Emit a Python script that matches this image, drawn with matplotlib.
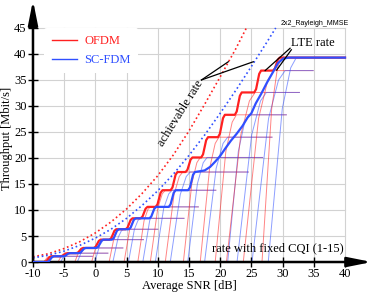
import matplotlib
matplotlib.use("Agg")
import matplotlib.pyplot as plt
from matplotlib.lines import Line2D

plt.rcParams['font.family'] = ['Liberation Serif', 'DejaVu Serif']
plt.rcParams['axes.unicode_minus'] = False

# ---- values ----
# throughput plateau of each CQI (1-15) [Mbit/s]
cqi_level = [1.1, 1.7, 2.7, 4.3, 6.3, 8.4, 10.6, 13.8, 17.3, 20.1, 24.0, 28.3, 32.6, 36.8, 39.3]

# fixed-CQI curves: SNR [dB] where throughput leaves zero / reaches plateau
ofdm_cqi_start = [-8.3, -6.0, -3.3, -0.6, 2.2, 4.6, 6.8, 8.8, 11.2, 14.1, 16.8, 19.2, 21.0, 23.7, 26.7]
ofdm_cqi_full = [-7.2, -4.8, -2.0, 0.9, 3.8, 6.4, 8.8, 11.2, 14.0, 16.8, 19.8, 22.6, 25.6, 28.6, 29.8]
scfdm_cqi_start = [-8.0, -5.6, -2.9, -0.1, 2.8, 5.3, 7.6, 9.6, 12.0, 14.8, 17.5, 21.2, 22.7, 25.1, 27.7]
scfdm_cqi_full = [-6.8, -4.3, -1.5, 1.5, 4.5, 7.2, 9.8, 12.3, 15.2, 17.9, 21.2, 24.6, 27.4, 30.4, 32.2]
cqi_line_end = [-0.5, 2.0, 4.4, 7.7, 10.0, 14.2, 16.5, 19.3, 24.5, 26.8, 28.3, 30.6, 32.7, 34.9, 40.0]

# LTE rate (adaptive CQI): SNR of each step [dB]
ofdm_step_snr = [-7.6, -5.0, -2.5, 0.3, 2.8, 5.4, 7.8, 10.2, 12.6, 15.0, 17.5, 20.2, 22.9, 26.0, 29.0]
scfdm_step_snr = [-7.2, -4.6, -2.1, 0.7, 3.2, 5.9, 9.2, 12.3, 15.4]
scfdm_tail_snr = [17.5, 18.4, 19.2, 20.0, 20.8, 21.7, 22.6, 23.6, 24.4, 25.0, 25.7,
                  26.6, 27.5, 28.5, 29.3, 30.1, 31.0, 40.0]
scfdm_tail_tp = [17.6, 18.3, 19.3, 20.4, 21.8, 23.3, 24.6, 26.2, 27.8, 28.6, 30.5,
                 32.4, 34.5, 36.6, 38.3, 39.1, 39.3, 39.3]

# achievable rate
ofdm_cap_snr = [-10, -7.5, -5, -2.5, 0, 2.5, 5, 7.5, 10, 12.5, 15, 17.5, 20, 22.5, 24.2]
ofdm_cap_tp = [1.0, 1.6, 2.6, 3.9, 5.6, 7.7, 10.2, 13.2, 16.6, 20.6, 25.2, 30.3, 35.6, 41.0, 45.0]
scfdm_cap_snr = [-10, -7.5, -5, -2.5, 0, 2.5, 5, 7.5, 10, 12.5, 15, 17.5, 20, 22.5, 25, 27.5, 28.9]
scfdm_cap_tp = [0.8, 1.3, 2.1, 3.2, 4.6, 6.3, 8.4, 10.9, 13.7, 16.9, 20.5, 24.4, 28.6, 33.0, 37.6, 42.3, 45.0]

red = '#ff2020'
blue = '#2f4fff'


def staircase(steps, levels):
    xs, ys = [-10], [0]
    prev = 0
    for r, lev in zip(steps, levels):
        d = lev - prev
        xs += [r - 0.55, r - 0.25, r + 0.25, r + 0.55]
        ys += [prev, prev + 0.15 * d, prev + 0.85 * d, lev]
        prev = lev
    return xs, ys


def fixed_cqi(start, full, end, lev):
    w = full - start
    xs = [-10, start, start + 0.5 * w, start + 0.8 * w, full, end]
    ys = [0, 0, 0.75 * lev, 0.95 * lev, lev, lev]
    return xs, ys


fig = plt.figure(figsize=(3.74, 2.92), dpi=100)
ax = fig.add_axes([0.0882, 0.1027, 0.906, 0.896])
ax.set_xlim(-10, 44.3)
ax.set_ylim(0, 50.3)

# grid only inside the data area
for x in range(-5, 41, 5):
    ax.plot([x, x], [0, 45], color='#d2d2d2', lw=0.8, zorder=0)
for y in range(5, 46, 5):
    ax.plot([-10, 40], [y, y], color='#d2d2d2', lw=0.8, zorder=0)

# fixed CQI curves
for i in range(len(cqi_level)):
    xs, ys = fixed_cqi(ofdm_cqi_start[i], ofdm_cqi_full[i], cqi_line_end[i], cqi_level[i])
    ax.plot(xs, ys, color=red, lw=0.7, alpha=0.55, zorder=2)
    xs, ys = fixed_cqi(scfdm_cqi_start[i], scfdm_cqi_full[i], cqi_line_end[i], cqi_level[i])
    ax.plot(xs, ys, color=blue, lw=0.7, alpha=0.55, zorder=2)

# achievable rate
ax.plot(ofdm_cap_snr, ofdm_cap_tp, color=red, ls=':', lw=1.2, zorder=3)
ax.plot(scfdm_cap_snr, scfdm_cap_tp, color=blue, ls=':', lw=1.2, zorder=3)

# LTE rate
xs, ys = staircase(ofdm_step_snr, cqi_level)
xs.append(40)
ys.append(cqi_level[-1])
ax.plot(xs, ys, color=red, lw=1.6, zorder=4)
xs, ys = staircase(scfdm_step_snr, cqi_level[:len(scfdm_step_snr)])
ax.plot(xs + scfdm_tail_snr, ys + scfdm_tail_tp, color=blue, lw=1.6, zorder=4)

# annotations
ax.text(13.6, 28.6, 'achievable rate', rotation=58, fontsize=9, ha='center', va='center')
ax.plot([17.0, 21.3], [35.0, 38.5], color='k', lw=0.9, zorder=5)
ax.plot([17.0, 25.3], [35.0, 38.5], color='k', lw=0.9, zorder=5)
ax.text(34.9, 42.1, 'LTE rate', fontsize=9, ha='center', va='center')
ax.plot([31.2, 27.2], [41.1, 36.8], color='k', lw=0.9, zorder=5)
ax.plot([31.4, 29.05], [40.8, 36.9], color='k', lw=0.9, zorder=5)
ax.text(29.2, 2.7, 'rate with fixed CQI (1-15)', fontsize=9, ha='center', va='center')
ax.text(35.2, 45.8, '2x2_Rayleigh_MMSE', fontsize=5, family='Liberation Sans',
        ha='center', va='center')

# axes with arrows
for s in ax.spines.values():
    s.set_visible(False)
arrow = dict(arrowstyle='-|>,head_length=0.8,head_width=0.16', lw=1.8, color='k',
             shrinkA=0, shrinkB=0, mutation_scale=18)
ax.annotate('', xy=(1.0, 0), xytext=(0, 0), xycoords='axes fraction', arrowprops=arrow,
            annotation_clip=False)
ax.annotate('', xy=(0, 1.0), xytext=(0, 0), xycoords='axes fraction', arrowprops=arrow,
            annotation_clip=False)

ax.set_xticks(range(-10, 41, 5))
ax.set_yticks(range(0, 46, 5))
ax.tick_params(direction='inout', length=7, width=1, labelsize=9, pad=1)

ax.set_xlabel('Average SNR [dB]', fontsize=9)
ax.xaxis.set_label_coords(0.463, -0.07)
ax.set_ylabel('Throughput [Mbit/s]', fontsize=9)
ax.yaxis.set_label_coords(-0.06, 0.474)

handles = [Line2D([], [], color=red, lw=1.0), Line2D([], [], color=blue, lw=1.0)]
leg = ax.legend(handles, ['OFDM', 'SC-FDM'], loc='upper left', bbox_to_anchor=(0.015, 0.92),
                fontsize=9, frameon=True, facecolor='white', edgecolor='none', framealpha=1,
                handlelength=2.0, handletextpad=0.6, labelspacing=0.55, borderpad=0.6)
for t, c in zip(leg.get_texts(), [red, blue]):
    t.set_color(c)

fig.savefig('out.png', dpi=100)
